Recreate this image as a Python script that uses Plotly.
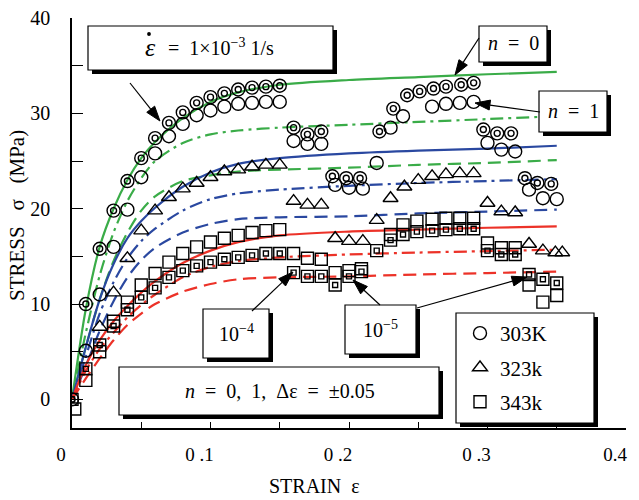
import math
import plotly.graph_objects as go

# ---------------- data ----------------
STRAIN_GRID = [0, 0.01, 0.02, 0.03, 0.04, 0.05, 0.06, 0.08, 0.10, 0.12, 0.15, 0.20, 0.25, 0.30, 0.35]

G_SOLID   = [0, 9.5, 16.0, 20.0, 23.0, 25.3, 27.0, 29.5, 31.2, 32.2, 33.0, 33.5, 33.8, 34.1, 34.35]
G_DASHDOT = [0, 7.0, 13.0, 17.5, 20.8, 23.2, 25.0, 26.9, 27.8, 28.2, 28.5, 28.8, 29.1, 29.4, 29.7]
G_DASH    = [0, 5.5, 10.5, 14.5, 17.5, 19.8, 21.3, 22.9, 23.5, 23.9, 24.1, 24.3, 24.6, 24.8, 25.1]
B_SOLID   = [0, 5.5, 10.5, 14.2, 16.9, 18.7, 20.1, 22.3, 23.8, 24.7, 25.3, 25.8, 26.1, 26.3, 26.6]
B_DASHDOT = [0, 4.5, 9.0, 12.3, 14.8, 16.6, 17.9, 19.8, 21.0, 21.6, 22.0, 22.4, 22.7, 22.9, 23.1]
B_DASH    = [0, 3.5, 7.2, 10.3, 12.8, 14.6, 15.9, 17.5, 18.4, 18.9, 19.1, 19.2, 19.5, 19.7, 19.9]
R_SOLID   = [0, 3.6, 6.2, 8.2, 9.8, 11.2, 12.4, 14.3, 15.6, 16.5, 17.2, 17.6, 17.8, 18.0, 18.15]
R_DASHDOT = [0, 3.0, 5.3, 7.0, 8.6, 9.9, 11.0, 12.8, 13.9, 14.5, 14.9, 15.2, 15.4, 15.55, 15.7]
R_DASH    = [0, 2.2, 4.3, 6.2, 7.8, 9.0, 10.0, 11.3, 12.1, 12.6, 12.8, 12.9, 13.1, 13.25, 13.4]

X_303_N0 = [0, 0.01, 0.02, 0.03, 0.04, 0.05, 0.06, 0.07, 0.08, 0.09, 0.10, 0.11, 0.12, 0.13, 0.14, 0.15,
            0.16, 0.17, 0.18, 0.188, 0.198, 0.208,
            0.222, 0.232, 0.242, 0.251, 0.261, 0.27, 0.281, 0.29,
            0.297, 0.307, 0.317, 0.327, 0.336, 0.346]
Y_303_N0 = [0, 10.0, 15.8, 19.8, 22.9, 25.3, 27.4, 29.0, 30.1, 31.1, 31.7, 32.1, 32.5, 32.7, 32.8, 32.9,
            28.5, 27.8, 28.1, 23.4, 23.2, 23.2,
            28.1, 30.5, 31.9, 32.3, 32.6, 32.8, 33.0, 33.2,
            28.3, 27.9, 27.9, 23.2, 22.7, 22.6]

X_303_N1 = [0.01, 0.02, 0.03, 0.04, 0.05, 0.06, 0.07, 0.08, 0.09, 0.10, 0.11, 0.12, 0.13, 0.14, 0.15,
            0.16, 0.17, 0.18, 0.19, 0.20, 0.21,
            0.22, 0.23, 0.239, 0.26, 0.27, 0.28, 0.29,
            0.30, 0.31, 0.32, 0.33, 0.34, 0.35]
Y_303_N1 = [5.1, 11.0, 16.0, 19.9, 23.3, 25.8, 27.6, 28.9, 29.8, 30.3, 30.7, 31.0, 31.1, 31.2, 31.2,
            27.1, 26.8, 26.8, 22.5, 22.2, 22.1,
            24.8, 28.5, 29.7, 30.7, 31.0, 31.1, 31.2,
            26.9, 26.2, 26.0, 22.0, 21.1, 21.0]

X_323 = [0.02, 0.03, 0.04, 0.05, 0.06, 0.07, 0.08, 0.09, 0.10, 0.11, 0.12, 0.13, 0.14, 0.15,
         0.16, 0.17, 0.18, 0.19, 0.20, 0.21,
         0.22, 0.23, 0.24, 0.25, 0.26, 0.27, 0.28, 0.29,
         0.30, 0.31, 0.32, 0.33, 0.34, 0.349, 0.354]
Y_323 = [7.6, 11.2, 14.8, 17.7, 19.8, 21.2, 22.1, 22.7, 23.3, 23.9, 24.1, 24.4, 24.6, 24.6,
         20.8, 20.4, 20.4, 16.9, 16.6, 16.6,
         18.8, 21.1, 22.3, 23.0, 23.4, 23.6, 23.7, 23.7,
         20.6, 19.7, 19.6, 16.3, 15.6, 15.4, 15.4]

X_343_N0 = [0, 0.01, 0.02, 0.03, 0.04, 0.05, 0.06, 0.07, 0.08, 0.09, 0.10, 0.11, 0.12, 0.13, 0.14, 0.15,
            0.16, 0.17, 0.18, 0.19, 0.20, 0.209,
            0.22, 0.23, 0.239, 0.249, 0.26, 0.27, 0.28, 0.29,
            0.30, 0.31, 0.32, 0.33, 0.34, 0.35]
Y_343_N0 = [0, 3.2, 5.7, 7.7, 9.4, 10.7, 11.7, 12.8, 13.5, 14.0, 14.4, 14.7, 14.9, 15.1, 15.3, 15.3,
            13.3, 12.9, 12.9, 12.0, 12.9, 13.4,
            15.6, 16.7, 17.3, 17.6, 17.7, 17.8, 17.9, 17.9,
            15.6, 15.2, 15.2, 13.1, 12.6, 12.2]

X_343_N1 = [0.002, 0.01, 0.02, 0.03, 0.04, 0.05, 0.06, 0.07, 0.08, 0.09, 0.10, 0.11, 0.12, 0.13, 0.14, 0.15,
            0.16, 0.17, 0.18, 0.19, 0.20, 0.209,
            0.23, 0.239, 0.249, 0.26, 0.27, 0.28, 0.29,
            0.30, 0.31, 0.32, 0.33, 0.34, 0.35]
Y_343_N1 = [-1.0, 2.0, 5.0, 8.2, 10.2, 12.0, 13.2, 14.4, 15.3, 16.0, 16.5, 16.9, 17.2, 17.5, 17.7, 17.8,
            15.3, 14.8, 14.7, 13.3, 13.5, 13.7,
            17.3, 18.3, 18.7, 18.9, 19.0, 19.0, 19.0,
            16.4, 15.9, 15.9, 12.0, 10.2, 10.9]

X_TICKS = [0, 0.1, 0.2, 0.3, 0.4]
X_TICK_TEXT = ["0", "0 .1", "0 .2", "0 .3", "0.4"]
Y_TICKS = [0, 10, 20, 30, 40]
LEGEND_NAMES = ["303K", "323k", "343k"]
X_TITLE = "STRAIN  ε"
Y_TITLE = "STRESS   σ   (MPa)"

# ---------------- style ----------------
FONT = "Liberation Serif"
GREEN = "rgb(58,172,72)"
BLUE = "rgb(42,72,160)"
RED = "rgb(236,50,40)"
DASHDOT = "13px,5px,3px,5px"
DASH = "13px,7px"

L, R, T, B = 72, 13, 18, 72
W, H = 639, 500
PW, PH = W - L - R, H - T - B


def px(x, y):
    return (x - L) / PW, (H - B - y) / PH


fig = go.Figure()

curves = [
    (G_SOLID, GREEN, "solid"), (G_DASHDOT, GREEN, DASHDOT), (G_DASH, GREEN, DASH),
    (B_SOLID, BLUE, "solid"), (B_DASHDOT, BLUE, DASHDOT), (B_DASH, BLUE, DASH),
    (R_SOLID, RED, "solid"), (R_DASHDOT, RED, DASHDOT), (R_DASH, RED, DASH),
]
for ys, c, d in curves:
    fig.add_trace(go.Scatter(x=STRAIN_GRID, y=ys, mode="lines",
                             line=dict(color=c, width=2.2, dash=d, shape="spline", smoothing=0.8),
                             showlegend=False, hoverinfo="skip"))

MLINE = dict(color="black", width=1.4)
# 303K
fig.add_trace(go.Scatter(x=X_303_N1, y=Y_303_N1, mode="markers", name=LEGEND_NAMES[0],
                         marker=dict(symbol="circle-open", size=13, color="black", line=MLINE),
                         legendgroup="a"))
fig.add_trace(go.Scatter(x=X_303_N0, y=Y_303_N0, mode="markers", showlegend=False,
                         marker=dict(symbol="circle-open", size=13, color="black", line=MLINE)))
fig.add_trace(go.Scatter(x=X_303_N0, y=Y_303_N0, mode="markers", showlegend=False,
                         marker=dict(symbol="circle-open", size=6, color="black", line=MLINE)))
# 323K
fig.add_trace(go.Scatter(x=X_323, y=Y_323, mode="markers", name=LEGEND_NAMES[1],
                         marker=dict(symbol="triangle-up-open", size=13, color="black", line=MLINE),
                         legendgroup="b"))
# 343K
fig.add_trace(go.Scatter(x=X_343_N1, y=Y_343_N1, mode="markers", name=LEGEND_NAMES[2],
                         marker=dict(symbol="square-open", size=12, color="black", line=MLINE),
                         legendgroup="c"))
fig.add_trace(go.Scatter(x=X_343_N0, y=Y_343_N0, mode="markers", showlegend=False,
                         marker=dict(symbol="square-open", size=12, color="black", line=MLINE)))
fig.add_trace(go.Scatter(x=X_343_N0, y=Y_343_N0, mode="markers", showlegend=False,
                         marker=dict(symbol="square-open", size=5, color="black", line=MLINE)))

# ---------------- boxes with shadows ----------------
boxes = [
    (88, 26, 333, 70),      # strain rate
    (479, 26, 547, 62),     # n = 0
    (539, 91, 607, 132),    # n = 1
    (203, 309, 269, 358),   # 10^-4
    (345, 305, 416, 354),   # 10^-5
    (119, 367, 439, 415),   # n = 0,1 ...
    (456, 313, 594, 423),   # legend
]
shapes = []
for x0, y0, x1, y1 in boxes:
    a0, b0 = px(x0 + 4, y0 + 4)
    a1, b1 = px(x1 + 4, y1 + 4)
    shapes.append(dict(type="rect", xref="paper", yref="paper", x0=a0, y0=b0, x1=a1, y1=b1,
                       fillcolor="black", line=dict(width=0), layer="above"))
    a0, b0 = px(x0, y0)
    a1, b1 = px(x1, y1)
    shapes.append(dict(type="rect", xref="paper", yref="paper", x0=a0, y0=b0, x1=a1, y1=b1,
                       fillcolor="white", line=dict(color="black", width=1.2), layer="above"))


def arrow(tx, ty, sx, sy, head=15, half=5):
    dx, dy = tx - sx, ty - sy
    n = math.hypot(dx, dy)
    ux, uy = dx / n, dy / n
    bx, by = tx - ux * head, ty - uy * head
    a, b = px(sx, sy)
    c, d = px(bx, by)
    shapes.append(dict(type="line", xref="paper", yref="paper", x0=a, y0=b, x1=c, y1=d,
                       line=dict(color="black", width=1.2), layer="above"))
    p1 = px(tx, ty)
    p2 = px(bx - uy * half, by + ux * half)
    p3 = px(bx + uy * half, by - ux * half)
    path = "M {:.5f},{:.5f} L {:.5f},{:.5f} L {:.5f},{:.5f} Z".format(p1[0], p1[1], p2[0], p2[1], p3[0], p3[1])
    shapes.append(dict(type="path", xref="paper", yref="paper", path=path,
                       fillcolor="black", line=dict(color="black", width=1), layer="above"))


arrow(160, 121, 130, 83)
arrow(455, 75, 479, 38)
arrow(475, 103, 540, 112)
arrow(293, 272, 252, 311)
arrow(353, 280, 380, 305)
arrow(527, 277, 417, 308)

# dot of the strain-rate symbol
cx, cy = px(149, 34)
rx, ry = 1.9 / PW, 1.9 / PH
shapes.append(dict(type="circle", xref="paper", yref="paper", x0=cx - rx, y0=cy - ry, x1=cx + rx, y1=cy + ry,
                   fillcolor="black", line=dict(width=0), layer="above"))

annotations = []


def text(x, y, s, size=20, angle=0):
    a, b = px(x, y)
    annotations.append(dict(xref="paper", yref="paper", x=a, y=b, text=s, showarrow=False,
                            font=dict(family=FONT, size=size, color="black"),
                            xanchor="center", yanchor="middle", textangle=angle))


text(150, 48, "<i>ε</i>", 26)
text(221, 47, "=  1×10<sup>−3</sup> 1/s", 20)
text(513, 43, "<i>n</i>  =  0", 20)
text(573, 111, "<i>n</i>  =  1", 20)
text(236, 333, "10<sup>−4</sup>", 20)
text(380, 329, "10<sup>−5</sup>", 20)
text(280, 391, "<i>n</i>  =  0,  1,  Δε  =  ±0.05", 20)
text(17, 216, Y_TITLE, 21, -90)
text(314, 486, X_TITLE, 20)

lx, ly = px(460, 313)
fig.update_layout(
    width=W, height=H,
    margin=dict(l=L, r=R, t=T, b=B),
    paper_bgcolor="white", plot_bgcolor="white",
    font=dict(family=FONT, size=18, color="black"),
    shapes=shapes, annotations=annotations,
    showlegend=True,
    legend=dict(x=lx, y=ly, xanchor="left", yanchor="top", bgcolor="rgba(0,0,0,0)",
                borderwidth=0, font=dict(family=FONT, size=21), tracegroupgap=4,
                traceorder="grouped"),
    xaxis=dict(range=[0, 0.4], tickvals=X_TICKS, ticktext=X_TICK_TEXT, ticks="inside", ticklen=6,
               tickwidth=1.2, tickcolor="black", showgrid=False, zeroline=False,
               showline=True, linecolor="black", linewidth=1.5, automargin=False,
               minor=dict(dtick=0.05, ticks="inside", ticklen=6, tickwidth=1.2, tickcolor="black"),
               ticklabelshift=-11, ticklabelstandoff=8,
               tickfont=dict(family=FONT, size=19)),
    yaxis=dict(range=[-3, 40], tickvals=Y_TICKS, ticks="inside", ticklen=11, tickwidth=1.2,
               tickcolor="black", showgrid=False, zeroline=False,
               showline=True, linecolor="black", linewidth=1.5, automargin=False,
               minor=dict(dtick=5, ticks="inside", ticklen=11, tickwidth=1.2, tickcolor="black"),
               ticklabelstandoff=16, tickfont=dict(family=FONT, size=20)),
)

fig.write_html("out.html")
